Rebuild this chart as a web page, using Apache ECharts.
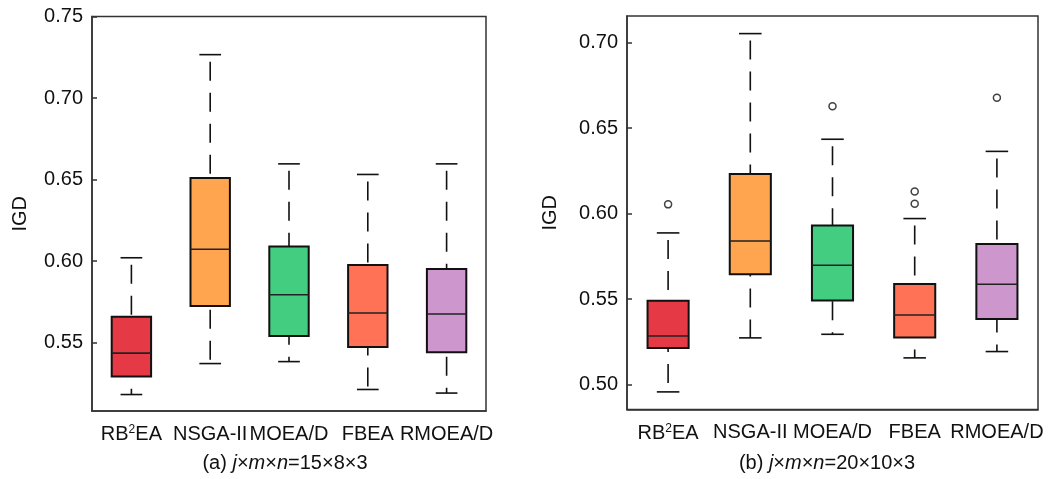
<!DOCTYPE html>
<html>
<head>
<meta charset="utf-8">
<script src="https://cdn.jsdelivr.net/npm/echarts@6/dist/echarts.min.js"></script>
<style>
  html, body { margin: 0; padding: 0; background: #fff; }
  #chart { width: 1058px; height: 479px; }
</style>
</head>
<body>
<div id="chart"></div>
<script>
var methods = ["RB2EA", "NSGA-II", "MOEA/D", "FBEA", "RMOEA/D"];
var colors = ["#E63946", "#FFA54F", "#43CD80", "#FF7256", "#CD96CD"];

// [min, q1, median, q3, max]
var boxA = [
  [0.5181, 0.5291, 0.5435, 0.5658, 0.6020],
  [0.5371, 0.5724, 0.6072, 0.6510, 0.7266],
  [0.5383, 0.5540, 0.5793, 0.6089, 0.6596],
  [0.5212, 0.5472, 0.5681, 0.5975, 0.6531],
  [0.5190, 0.5441, 0.5675, 0.5951, 0.6596]
];
var boxB = [
  [0.4957, 0.5214, 0.5284, 0.5490, 0.5887],
  [0.5273, 0.5645, 0.5840, 0.6232, 0.7053],
  [0.5294, 0.5491, 0.5698, 0.5930, 0.6435],
  [0.5156, 0.5275, 0.5407, 0.5588, 0.5971],
  [0.5193, 0.5384, 0.5587, 0.5822, 0.6364]
];
var outliersA = [];
var outliersB = [[0, 0.6054], [2, 0.6628], [3, 0.6129], [3, 0.6058], [4, 0.6678]];

var ticksA = [0.55, 0.60, 0.65, 0.70, 0.75];
var ticksB = [0.50, 0.55, 0.60, 0.65, 0.70];

var font = "'Liberation Sans', Arial, sans-serif";

function boxData(arr) {
  var out = [];
  for (var i = 0; i < arr.length; i++) {
    out.push([i].concat(arr[i]));
  }
  return out;
}

function renderBox(params, api) {
  var i = api.value(0);
  var lo = api.coord([i, api.value(1)]);
  var q1 = api.coord([i, api.value(2)]);
  var md = api.coord([i, api.value(3)]);
  var q3 = api.coord([i, api.value(4)]);
  var hi = api.coord([i, api.value(5)]);
  var bw = api.size([1, 0])[0] * 0.5;
  var cw = bw / 2;
  var x = lo[0];
  return {
    type: "group",
    children: [
      { type: "line", shape: { x1: x, y1: hi[1], x2: x, y2: lo[1] },
        style: { stroke: "#111", lineWidth: 1.6, lineDash: [19, 12], lineDashOffset: 24 } },
      { type: "line", shape: { x1: x - cw / 2 - 1, y1: hi[1], x2: x + cw / 2 + 1, y2: hi[1] },
        style: { stroke: "#111", lineWidth: 1.6 } },
      { type: "line", shape: { x1: x - cw / 2 - 1, y1: lo[1], x2: x + cw / 2 + 1, y2: lo[1] },
        style: { stroke: "#111", lineWidth: 1.6 } },
      { type: "rect", shape: { x: x - bw / 2, y: q3[1], width: bw, height: q1[1] - q3[1] },
        style: { fill: colors[params.dataIndex], stroke: "#111", lineWidth: 2 } },
      { type: "line", shape: { x1: x - bw / 2, y1: md[1], x2: x + bw / 2, y2: md[1] },
        style: { stroke: "#222", lineWidth: 1.6 } }
    ]
  };
}

function labelFmt(v) {
  return v == "RB2EA" ? "RB{sup|2}EA" : v;
}

function xAxisOpt(idx) {
  return {
    type: "category",
    gridIndex: idx,
    data: methods,
    boundaryGap: true,
    axisLine: { lineStyle: { color: "#333", width: 1.5 } },
    axisTick: { inside: true, alignWithLabel: true, length: 5, lineStyle: { color: "#333", width: 1.5 } },
    axisLabel: {
      interval: 0, margin: 13, color: "#111", fontSize: 20, fontFamily: font,
      formatter: labelFmt,
      rich: { sup: { fontSize: 12, fontFamily: font, color: "#111", verticalAlign: "top", padding: [0, 0, 9, 0] } }
    },
    splitLine: { show: false }
  };
}

function yAxisOpt(idx, min, max, ticks, gap) {
  return {
    type: "value",
    gridIndex: idx,
    min: min,
    max: max,
    name: "IGD",
    nameLocation: "middle",
    nameGap: gap,
    nameTextStyle: { fontSize: 20, fontFamily: font, color: "#111" },
    axisLine: { show: true, lineStyle: { color: "#333", width: 1.5 } },
    axisTick: { show: true, inside: true, length: 5, customValues: ticks, lineStyle: { color: "#333", width: 1.5 } },
    axisLabel: {
      margin: 9, color: "#111", fontSize: 20, fontFamily: font, customValues: ticks,
      formatter: function (v) { return v.toFixed(2); }
    },
    splitLine: { show: false }
  };
}

var chart = echarts.init(document.getElementById("chart"), null, { renderer: "canvas" });

var option = {
  backgroundColor: "#fff",
  animation: false,
  grid: [
    { left: 92, top: 16.5, width: 394, height: 394.5, show: true, borderColor: "#333", borderWidth: 1.5 },
    { left: 627, top: 16, width: 411, height: 393.5, show: true, borderColor: "#333", borderWidth: 1.5 }
  ],
  xAxis: [xAxisOpt(0), xAxisOpt(1)],
  yAxis: [
    yAxisOpt(0, 0.508, 0.75, ticksA, 62),
    yAxisOpt(1, 0.4854, 0.7156, ticksB, 67)
  ],
  series: [
    { type: "custom", xAxisIndex: 0, yAxisIndex: 0, renderItem: renderBox,
      encode: { x: 0, y: [1, 2, 3, 4, 5] }, data: boxData(boxA) },
    { type: "custom", xAxisIndex: 1, yAxisIndex: 1, renderItem: renderBox,
      encode: { x: 0, y: [1, 2, 3, 4, 5] }, data: boxData(boxB) },
    { type: "scatter", xAxisIndex: 0, yAxisIndex: 0, data: outliersA },
    { type: "scatter", xAxisIndex: 1, yAxisIndex: 1, data: outliersB,
      symbol: "circle", symbolSize: 7,
      itemStyle: { color: "#fff", borderColor: "#111", borderWidth: 1.5 } }
  ],
  graphic: [
    { type: "text", x: 285, y: 453,
      style: { text: "(a) {i|j}×{i|m}×{i|n}=15×8×3", font: "20px " + font, fill: "#111",
        align: "center", textAlign: "center",
        rich: { i: { fontStyle: "italic", fontSize: 20, fontFamily: font } } } },
    { type: "text", x: 827, y: 453,
      style: { text: "(b) {i|j}×{i|m}×{i|n}=20×10×3", font: "20px " + font, fill: "#111",
        align: "center", textAlign: "center",
        rich: { i: { fontStyle: "italic", fontSize: 20, fontFamily: font } } } }
  ]
};

option && chart.setOption(option);
</script>
</body>
</html>
